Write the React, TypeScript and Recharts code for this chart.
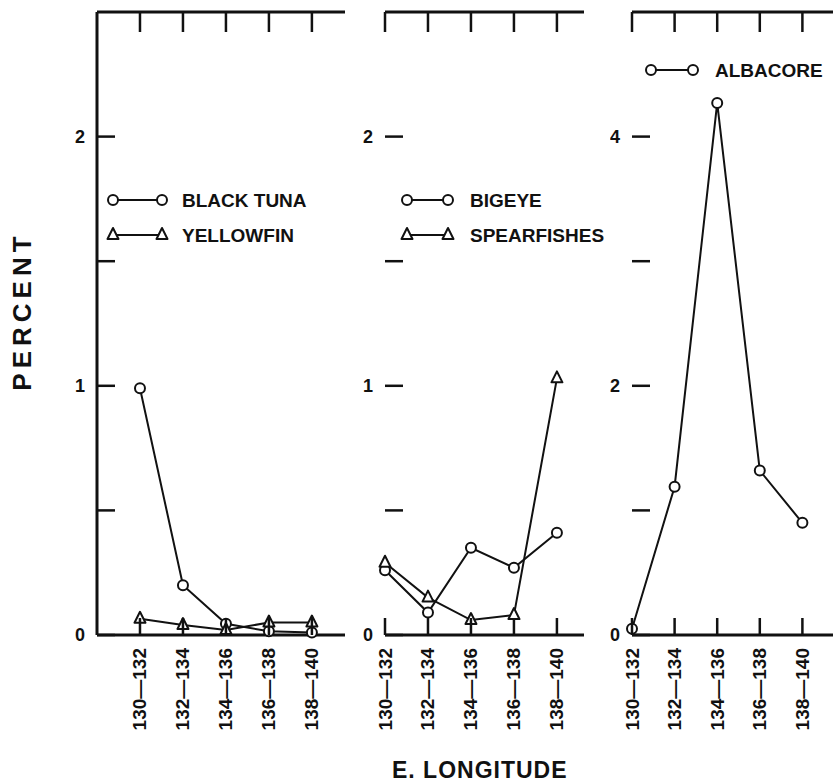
import { LineChart, Line, XAxis, YAxis, Legend } from "recharts";

// catch in percent, by 2-degree band of east longitude
const LONGITUDES = ["130—132", "132—134", "134—136", "136—138", "138—140"];
const BLACK_TUNA = [0.99, 0.2, 0.045, 0.015, 0.01];
const YELLOWFIN = [0.065, 0.04, 0.02, 0.05, 0.05];
const BIGEYE = [0.26, 0.09, 0.35, 0.27, 0.41];
const SPEARFISHES = [0.29, 0.15, 0.06, 0.08, 1.03];
const ALBACORE = [0.05, 1.19, 4.27, 1.32, 0.9];

const Y_TICKS_LOW = [0, 0.5, 1, 1.5, 2];
const Y_LABELS_LOW = [0, 1, 2];
const Y_TICKS_HIGH = [0, 1, 2, 3, 4];
const Y_LABELS_HIGH = [0, 2, 4];

const FONT = "'Liberation Sans', Arial, sans-serif";
const INK = "#111";
const H = 784;
const TOP = 12;
const BOTTOM = 149;

type Shape = "circle" | "triangle";
type Series = { key: string; name: string; values: number[]; shape: Shape };

const Triangle = ({ cx, cy, index }: any) => (
  <path
    key={index}
    d={`M${cx},${cy - 7} L${cx + 5.5},${cy + 4} L${cx - 5.5},${cy + 4} Z`}
    fill="#fff"
    stroke={INK}
    strokeWidth={2}
    strokeLinejoin="round"
  />
);

const CIRCLE_DOT = { r: 5, fill: "#fff", stroke: INK, strokeWidth: 2 };

function Marker({ shape, x, y }: { shape: Shape; x: number; y: number }) {
  if (shape === "circle") return <circle cx={x} cy={y} r={5} fill="#fff" stroke={INK} strokeWidth={2} />;
  return <Triangle cx={x} cy={y} />;
}

function LegendBox({ series, lineLen, textOff }: { series: Series[]; lineLen: number; textOff: number }) {
  return (
    <svg width={240} height={series.length * 35}>
      {series.map((s, i) => {
        const cy = 12 + i * 35;
        return (
          <g key={s.key}>
            <line x1={8} y1={cy} x2={8 + lineLen} y2={cy} stroke={INK} strokeWidth={2} />
            <Marker shape={s.shape} x={8} y={cy} />
            <Marker shape={s.shape} x={8 + lineLen} y={cy} />
            <text x={8 + textOff} y={cy + 7} fontFamily={FONT} fontWeight="bold" fontSize={19} fill={INK}>
              {s.name}
            </text>
          </g>
        );
      })}
    </svg>
  );
}

type PanelProps = {
  left: number;
  width: number;
  mLeft: number;
  mRight: number;
  xDomain: [number, number];
  yMax: number;
  yTicks: number[];
  yLabels: number[];
  leftLine: boolean;
  rightTicks: boolean;
  series: Series[];
  legend: { x: number; y: number; lineLen: number; textOff: number };
};

function Panel(p: PanelProps) {
  const data = LONGITUDES.map((_, i) => {
    const row: any = { i };
    p.series.forEach((s) => (row[s.key] = s.values[i]));
    return row;
  });

  const bottomTick = ({ x, y, payload }: any) => (
    <g>
      <line x1={x} y1={y} x2={x} y2={y - 17} stroke={INK} strokeWidth={2.5} />
      <text
        x={x}
        y={y + 13}
        transform={`rotate(-90 ${x} ${y + 13})`}
        textAnchor="end"
        dominantBaseline="central"
        fontFamily={FONT}
        fontWeight="bold"
        fontSize={19}
        fill={INK}
      >
        {LONGITUDES[payload.value]}
      </text>
    </g>
  );

  const topTick = ({ x, y }: any) => <line x1={x} y1={y} x2={x} y2={y + 20} stroke={INK} strokeWidth={2.5} />;

  const leftTick = ({ x, y, payload }: any) => (
    <g>
      <line x1={x} y1={y} x2={x + 18} y2={y} stroke={INK} strokeWidth={2.5} />
      {p.yLabels.includes(payload.value) && (
        <text
          x={x - 12}
          y={y}
          textAnchor="end"
          dominantBaseline="central"
          fontFamily={FONT}
          fontWeight="bold"
          fontSize={18}
          fill={INK}
        >
          {payload.value}
        </text>
      )}
    </g>
  );

  const rightTick = ({ x, y }: any) => <line x1={x} y1={y} x2={x - 18} y2={y} stroke={INK} strokeWidth={2.5} />;

  // axes are 1px thick, so margins are trimmed by 1 to keep the plot box in place
  return (
    <div style={{ position: "absolute", left: p.left, top: 0 }}>
      <LineChart
        width={p.width}
        height={H}
        data={data}
        margin={{ top: TOP - 1, bottom: BOTTOM - 1, left: p.mLeft - 1, right: p.rightTicks ? p.mRight - 1 : p.mRight }}
      >
        <XAxis
          dataKey="i"
          type="number"
          domain={p.xDomain}
          ticks={[0, 1, 2, 3, 4]}
          interval={0}
          height={1}
          tickSize={0}
          tickMargin={0}
          tickLine={false}
          tick={bottomTick}
          axisLine={{ stroke: INK, strokeWidth: 3 }}
        />
        <XAxis
          xAxisId="top"
          orientation="top"
          dataKey="i"
          type="number"
          domain={p.xDomain}
          ticks={[0, 1, 2, 3, 4]}
          interval={0}
          height={1}
          tickSize={0}
          tickMargin={0}
          tickLine={false}
          tick={topTick}
          axisLine={{ stroke: INK, strokeWidth: 3 }}
        />
        <YAxis
          type="number"
          domain={[0, p.yMax]}
          ticks={p.yTicks}
          interval={0}
          width={1}
          tickSize={0}
          tickMargin={0}
          tickLine={false}
          tick={leftTick}
          axisLine={p.leftLine ? { stroke: INK, strokeWidth: 3 } : false}
        />
        {p.rightTicks && (
          <YAxis
            yAxisId="right"
            orientation="right"
            type="number"
            domain={[0, p.yMax]}
            ticks={p.yTicks}
            interval={0}
            width={1}
            tickSize={0}
            tickMargin={0}
            tickLine={false}
            tick={rightTick}
            axisLine={{ stroke: INK, strokeWidth: 3 }}
          />
        )}
        {p.series.map((s) => (
          <Line
            key={s.key}
            dataKey={s.key}
            name={s.name}
            type="linear"
            stroke={INK}
            strokeWidth={2}
            dot={s.shape === "circle" ? CIRCLE_DOT : Triangle}
            activeDot={false}
            isAnimationActive={false}
          />
        ))}
        <Legend
          layout="vertical"
          align="center"
          verticalAlign="middle"
          wrapperStyle={{ left: p.legend.x - 8 - p.left, top: p.legend.y - 12, width: 240, bottom: "auto" }}
          content={() => <LegendBox series={p.series} lineLen={p.legend.lineLen} textOff={p.legend.textOff} />}
        />
      </LineChart>
    </div>
  );
}

export default function App() {
  return (
    <div
      style={{
        position: "absolute",
        left: 0,
        top: 0,
        width: 833,
        height: 784,
        overflow: "hidden",
        background: "#fff",
      }}
    >
      <Panel
        left={0}
        width={360}
        mLeft={97}
        mRight={15}
        xDomain={[-1, 4.77]}
        yMax={2.5}
        yTicks={Y_TICKS_LOW}
        yLabels={Y_LABELS_LOW}
        leftLine
        rightTicks={false}
        series={[
          { key: "blackTuna", name: "BLACK TUNA", values: BLACK_TUNA, shape: "circle" },
          { key: "yellowfin", name: "YELLOWFIN", values: YELLOWFIN, shape: "triangle" },
        ]}
        legend={{ x: 113, y: 200, lineLen: 49, textOff: 69 }}
      />
      <Panel
        left={360}
        width={250}
        mLeft={25}
        mRight={26}
        xDomain={[0, 4.63]}
        yMax={2.5}
        yTicks={Y_TICKS_LOW}
        yLabels={Y_LABELS_LOW}
        leftLine={false}
        rightTicks={false}
        series={[
          { key: "bigeye", name: "BIGEYE", values: BIGEYE, shape: "circle" },
          { key: "spearfishes", name: "SPEARFISHES", values: SPEARFISHES, shape: "triangle" },
        ]}
        legend={{ x: 407, y: 200, lineLen: 41, textOff: 63 }}
      />
      <Panel
        left={610}
        width={240}
        mLeft={22}
        mRight={5}
        xDomain={[0, 5]}
        yMax={5}
        yTicks={Y_TICKS_HIGH}
        yLabels={Y_LABELS_HIGH}
        leftLine={false}
        rightTicks
        series={[{ key: "albacore", name: "ALBACORE", values: ALBACORE, shape: "circle" }]}
        legend={{ x: 651, y: 70, lineLen: 42, textOff: 64 }}
      />
      <div
        style={{
          position: "absolute",
          left: 22,
          top: 311,
          transform: "translate(-50%, -50%) rotate(-90deg)",
          fontFamily: FONT,
          fontWeight: "bold",
          fontSize: 26,
          letterSpacing: 5,
          color: INK,
          whiteSpace: "nowrap",
        }}
      >
        PERCENT
      </div>
      <div
        style={{
          position: "absolute",
          left: 392,
          top: 757,
          fontFamily: FONT,
          fontWeight: "bold",
          fontSize: 23,
          letterSpacing: 1,
          color: INK,
          whiteSpace: "nowrap",
        }}
      >
        E. LONGITUDE
      </div>
    </div>
  );
}
